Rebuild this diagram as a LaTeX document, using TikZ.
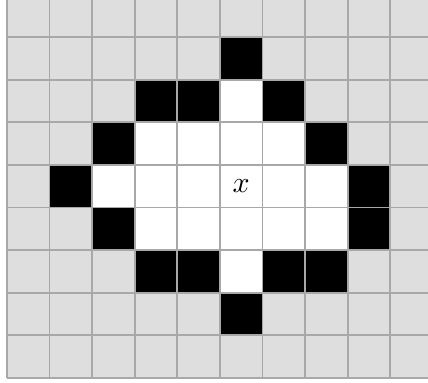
\documentclass[tikz,border=0pt]{standalone}
\usetikzlibrary{positioning}
\definecolor{cellgray}{gray}{0.87}
\definecolor{gridgray}{gray}{0.66}

\begin{document}
\begin{tikzpicture}[
    x=0.5cm, y=0.5cm,
    whitecell/.style={fill=white},
    blackcell/.style={fill=black},
    gridline/.style={draw=gridgray, line width=0.6pt}
]
    \useasboundingbox (-0.164,-0.117) rectangle (9.883,8.873);
    \begin{scope}
    \clip (-0.164,-0.117) rectangle (9.883,8.873);
    % Background cells
    \fill[cellgray] (0,0) rectangle (11,10);

    % Interior
    \foreach \c/\r in {5/6, 3/5, 4/5, 5/5, 6/5, 2/4, 3/4, 4/4, 5/4, 6/4, 7/4,
                       3/3, 4/3, 5/3, 6/3, 7/3, 5/2}
        \fill[whitecell] (\c,\r) rectangle ++(1,1);

    % Boundary
    \foreach \c/\r in {5/7, 3/6, 4/6, 6/6, 2/5, 7/5, 1/4, 8/4, 2/3, 8/3,
                       3/2, 4/2, 6/2, 7/2, 5/1}
        \fill[blackcell] (\c,\r) rectangle ++(1,1);

    % Grid
    \draw[gridline, step=0.5cm] (0,0) grid (11,10);
    \end{scope}

    \node (center) at (5.5,4.5) {$x$};
\end{tikzpicture}
\end{document}
